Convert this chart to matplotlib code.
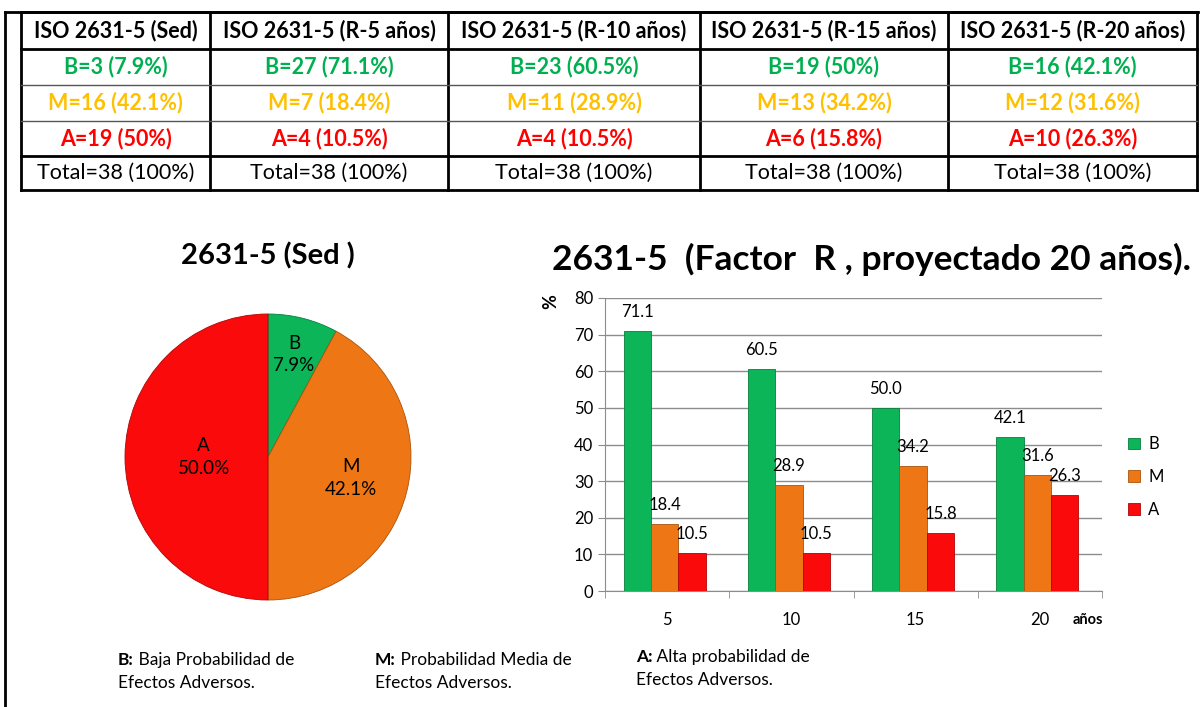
import matplotlib
matplotlib.use('Agg')
import numpy as np
from matplotlib import pyplot as plt

plt.rcParams['font.family'] = ['Lato', 'DejaVu Sans']

# datos de la tabla
columnas = ['ISO 2631-5 (Sed)', 'ISO 2631-5 (R-5 años)', 'ISO 2631-5 (R-10 años)',
            'ISO 2631-5 (R-15 años)', 'ISO 2631-5 (R-20 años)']
n_B = [3, 27, 23, 19, 16]
n_M = [16, 7, 11, 13, 12]
n_A = [19, 4, 4, 6, 10]
p_B = [7.9, 71.1, 60.5, 50, 42.1]
p_M = [42.1, 18.4, 28.9, 34.2, 31.6]
p_A = [50, 10.5, 10.5, 15.8, 26.3]
total = 38

# datos del pastel (Sed)
pie_labels = ['B', 'M', 'A']
pie_vals = [7.9, 42.1, 50.0]

# datos de barras (Factor R)
anios = ['5', '10', '15', '20']
bar_B = [71.1, 60.5, 50.0, 42.1]
bar_M = [18.4, 28.9, 34.2, 31.6]
bar_A = [10.5, 10.5, 15.8, 26.3]

notas = [('B:', ' Baja Probabilidad de', 'Efectos Adversos.'),
         ('M:', ' Probabilidad Media de', 'Efectos Adversos.'),
         ('A:', ' Alta probabilidad de', 'Efectos Adversos.')]

c_txt = {'B': '#00B050', 'M': '#FFC000', 'A': '#FF0000'}
c_bar = {'B': '#0CB558', 'M': '#EE7615', 'A': '#FA0A0A'}
c_edge = {'B': '#07803E', 'M': '#A9530C', 'A': '#B00606'}

W, H = 1200, 707
fig = plt.figure(figsize=(W / 100, H / 100), dpi=100)

# capa de fondo en pixeles
ax0 = fig.add_axes([0, 0, 1, 1])
ax0.set_xlim(0, W)
ax0.set_ylim(H, 0)
ax0.axis('off')

# marco exterior
ax0.plot([5, 5], [12, H], color='black', lw=2)
ax0.plot([5, 1198], [12, 12], color='black', lw=2)

# tabla
xs = [21, 210, 448, 700, 948, 1197]
ys = [12, 49, 85, 121, 156, 190]
for x in xs:
    ax0.plot([x, x], [ys[0], ys[-1]], color='black', lw=2)
for i, y in enumerate(ys):
    if i in (2, 3):
        ax0.plot([xs[0], xs[-1]], [y, y], color='#555555', lw=1)
    else:
        ax0.plot([xs[0], xs[-1]], [y, y], color='black', lw=2)

for j, col in enumerate(columnas):
    cx = (xs[j] + xs[j + 1]) / 2
    filas = [(col, 'black', 'bold'),
             (f'B={n_B[j]} ({p_B[j]:g}%)', c_txt['B'], 'bold'),
             (f'M={n_M[j]} ({p_M[j]:g}%)', c_txt['M'], 'bold'),
             (f'A={n_A[j]} ({p_A[j]:g}%)', c_txt['A'], 'bold'),
             (f'Total={total} (100%)', 'black', 'normal')]
    for i, (t, c, w) in enumerate(filas):
        cy = (ys[i] + ys[i + 1]) / 2
        ax0.text(cx, cy, t, ha='center', va='center', color=c,
                 fontweight=w, fontsize=15.5)

# titulos
ax0.text(268, 256, '2631-5 (Sed )', ha='center', va='center',
         fontsize=21, fontweight='bold')
ax0.text(872, 259, '2631-5  (Factor  R , proyectado 20 años).', ha='center',
         va='center', fontsize=25.5, fontweight='bold')

# pastel
r_px = 143
axp = fig.add_axes([(268 - r_px) / W, (H - 457 - r_px) / H, 2 * r_px / W, 2 * r_px / H])
wedges, _ = axp.pie(pie_vals, colors=[c_bar[k] for k in pie_labels],
                    startangle=90, counterclock=False,
                    wedgeprops=dict(linewidth=0.6))
for w, k in zip(wedges, pie_labels):
    w.set_edgecolor(c_edge[k])
axp.set_xlim(-1, 1)
axp.set_ylim(-1, 1)
frac = [0.74, 0.6, 0.45]
for w, lab, v, f in zip(wedges, pie_labels, pie_vals, frac):
    ang = np.deg2rad((w.theta1 + w.theta2) / 2)
    axp.text(f * np.cos(ang), f * np.sin(ang), f'{lab}\n{v:.1f}%',
             ha='center', va='center', fontsize=13.5, linespacing=1.4)

# barras
axb = fig.add_axes([605 / W, (H - 591) / H, 497 / W, 293 / H])
x = np.arange(len(anios))
bw = 0.22
series = [('B', bar_B, -bw), ('M', bar_M, 0), ('A', bar_A, bw)]
for k, vals, off in series:
    bars = axb.bar(x + off - 0.02, vals, bw, color=c_bar[k], edgecolor=c_edge[k],
                   linewidth=0.6, label=k, zorder=3)
    for b, v in zip(bars, vals):
        axb.text(b.get_x() + b.get_width() / 2, v + 3, f'{v:.1f}', ha='center',
                 va='bottom', fontsize=12, zorder=4)

axb.set_xlim(-0.5, 3.5)
axb.set_ylim(0, 80)
axb.set_yticks(np.arange(0, 81, 10))
axb.yaxis.grid(True, color='#8c8c8c', lw=1)
axb.set_axisbelow(True)
for s in ['top', 'right']:
    axb.spines[s].set_visible(False)
for s in ['left', 'bottom']:
    axb.spines[s].set_color('#8c8c8c')
axb.set_xticks(x)
axb.set_xticklabels(anios)
axb.set_xticks(np.arange(-0.5, 3.6, 1), minor=True)
axb.tick_params(axis='x', which='major', length=0, pad=15, labelsize=12)
axb.tick_params(axis='x', which='minor', length=5, color='#8c8c8c')
axb.tick_params(axis='y', length=5, color='#8c8c8c', labelsize=12)

ax0.text(1088, 620, 'años', ha='center', va='center', fontsize=10.5, fontweight='bold')
ax0.text(551, 302, '%', ha='center', va='center', fontsize=13, fontweight='bold',
         rotation=90)

axb.legend(loc='center left', bbox_to_anchor=(1113 / W, (H - 477) / H),
           bbox_transform=fig.transFigure, frameon=False, fontsize=12,
           handlelength=0.7, handleheight=0.7, labelspacing=1.0, handletextpad=0.5)

# notas
pos = [(118, 660), (375, 660), (636, 657)]
for (b, t1, t2), (px, py) in zip(notas, pos):
    tb = ax0.text(px, py, b, fontsize=12.5, fontweight='bold', va='center')
    ax0.annotate(t1, xy=(1, 0), xycoords=tb, va='bottom', fontsize=12.5)
    ax0.text(px, py + 23, t2, fontsize=12.5, va='center')

fig.savefig('out.png', dpi=100)
